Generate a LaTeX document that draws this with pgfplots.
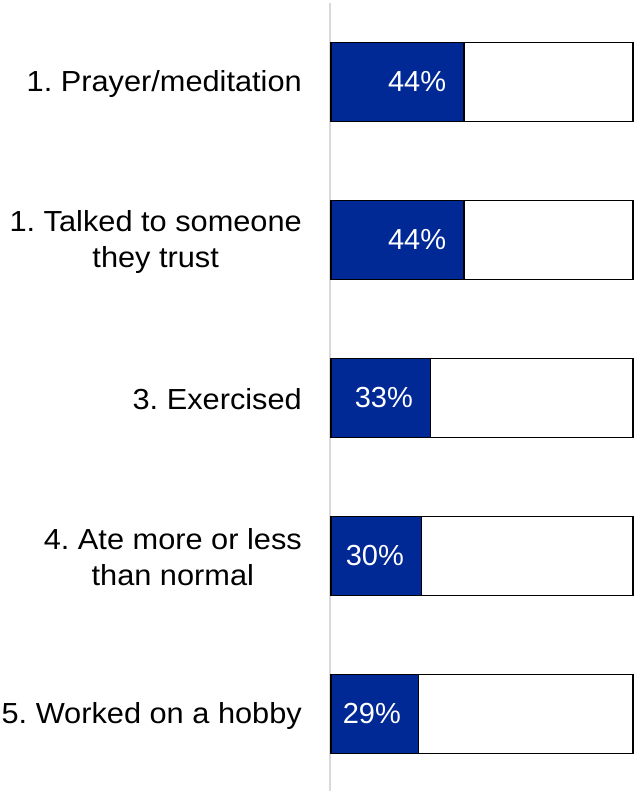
\documentclass[border=0pt]{standalone}
\usepackage{fontspec}
\setmainfont{Liberation Sans}
\newfontfamily\labfont[FakeStretch=1.06]{Liberation Sans}
\usepackage{pgfplots}
\pgfplotsset{compat=1.18}
\definecolor{barblue}{RGB}{0,41,150}
\definecolor{linegray}{RGB}{217,217,217}
\frenchspacing
\begin{document}
\begin{tikzpicture}
\useasboundingbox (0pt,0pt) rectangle (634pt,-791pt);
\draw[linegray, line width=2.5pt] (330pt,-3pt) -- (330pt,-791pt);
\begin{axis}[
  at={(331pt,-3pt)}, anchor=north west,
  scale only axis, width=302pt, height=790pt,
  xmin=0, xmax=100, ymin=-0.5, ymax=4.5, y dir=reverse,
  xbar, bar width=79pt, bar shift=0pt,
  axis line style={draw=none},
  xtick=\empty,
  ytick={0,1,2,3,4},
  yticklabels={{1. Prayer/meditation},{1. Talked to someone\\they trust},{3. Exercised},{4. Ate more or less\\than normal},{5. Worked on a hobby}},
  major tick length=0pt,
  tick style={draw=none},
  yticklabel style={font=\labfont\fontsize{29}{36}\selectfont, align=center, inner sep=0pt, xshift=-29pt, yshift=-1.5pt},
  clip=false,
]
\addplot[fill=white, draw=black, line width=1.5pt]
  coordinates {(100,0) (100,1) (100,2) (100,3) (100,4)};
\addplot[fill=barblue, draw=black, line width=1.5pt,
  point meta=x,
  nodes near coords={\pgfmathprintnumber[assume math mode=true]{\pgfplotspointmeta}\%},
  nodes near coords style={anchor=east, text=white, inner sep=0pt, xshift=-17pt, font=\fontsize{29}{34}\selectfont}]
  coordinates {(44,0) (44,1) (33,2) (30,3) (29,4)};
\end{axis}
\end{tikzpicture}
\end{document}
